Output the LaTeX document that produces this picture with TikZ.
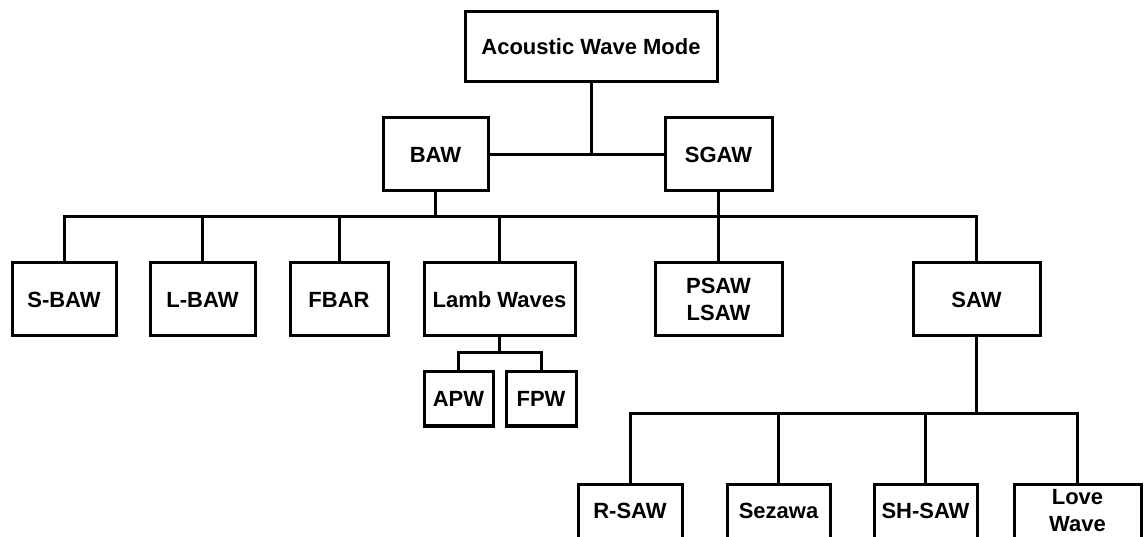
\documentclass[tikz,border=0pt]{standalone}
\usepackage{fontspec}
\setsansfont{Liberation Sans}
\usetikzlibrary{positioning}

\begin{document}
\begin{tikzpicture}[
  x=1pt, y=-1pt,
  font=\sffamily\bfseries\fontsize{22}{27}\selectfont,
  wave/.style={draw, line width=3pt, inner sep=0pt, align=center,
               minimum height=73pt},
  small/.style={wave, minimum height=54pt},
  link/.style={line width=3pt},
]
  \useasboundingbox (0,0) rectangle (1144,537);

  % Top
  \node[wave, minimum width=252pt, minimum height=70pt] (mode) at (591,47) {Acoustic Wave Mode};
  \node[wave, minimum width=105pt] (baw) at (435.5,154.5) {BAW};
  \node[wave, minimum width=107pt] (sgaw) at (718.5,154.5) {SGAW};
  % Row 2
  \node[wave, minimum width=104pt] (sbaw) at (64,299.5) {S-BAW};
  \node[wave, minimum width=105pt] (lbaw) at (202.5,299.5) {L-BAW};
  \node[wave, minimum width=98pt] (fbar) at (339,299.5) {FBAR};
  \node[wave, minimum width=151pt] (lamb) at (499.5,299.5) {Lamb Waves};
  \node[wave, minimum width=127pt] (psaw) at (718.5,299.5) {PSAW\\LSAW};
  \node[wave, minimum width=127pt] (saw) at (976.5,299.5) {SAW};
  % Lamb wave modes
  \node[small, minimum width=69pt] (apw) at (458.5,399) {APW};
  \node[small, minimum width=70pt] (fpw) at (541,399) {FPW};
  % SAW modes
  \node[small, minimum width=104pt] (rsaw) at (630,511) {R-SAW};
  \node[small, minimum width=103pt] (sezawa) at (778.5,511) {Sezawa};
  \node[small, minimum width=103pt] (shsaw) at (925.5,511) {SH-SAW};
  \node[small, minimum width=127pt] (love) at (1077.5,511) {Love\\Wave};

  \coordinate (bus) at (0,217);
  \coordinate (lambbus) at (0,353);
  \coordinate (sawbus) at (0,414);

  \draw[link] (baw) -- (sgaw);
  \draw[link] (mode) -- (mode |- baw);
  \draw[link] (sgaw) -- (psaw);

  \draw[link] (sbaw.north) -- (sbaw.north |- bus) -- (saw.north |- bus) -- (saw.north);
  \draw[link] (baw.south) -- (baw.south |- bus);
  \foreach \n in {lbaw,fbar,lamb}
    \draw[link] (\n.north) -- (\n.north |- bus);

  \draw[link] (lamb.south) -- (lamb.south |- lambbus);
  \draw[link] (apw.north) -- (apw.north |- lambbus) -- (fpw.north |- lambbus) -- (fpw.north);

  \draw[link] (saw.south) -- (saw.south |- sawbus);
  \draw[link] (rsaw.north) -- (rsaw.north |- sawbus) -- (love.north |- sawbus) -- (love.north);
  \foreach \n in {sezawa,shsaw}
    \draw[link] (\n.north) -- (\n.north |- sawbus);
\end{tikzpicture}
\end{document}
